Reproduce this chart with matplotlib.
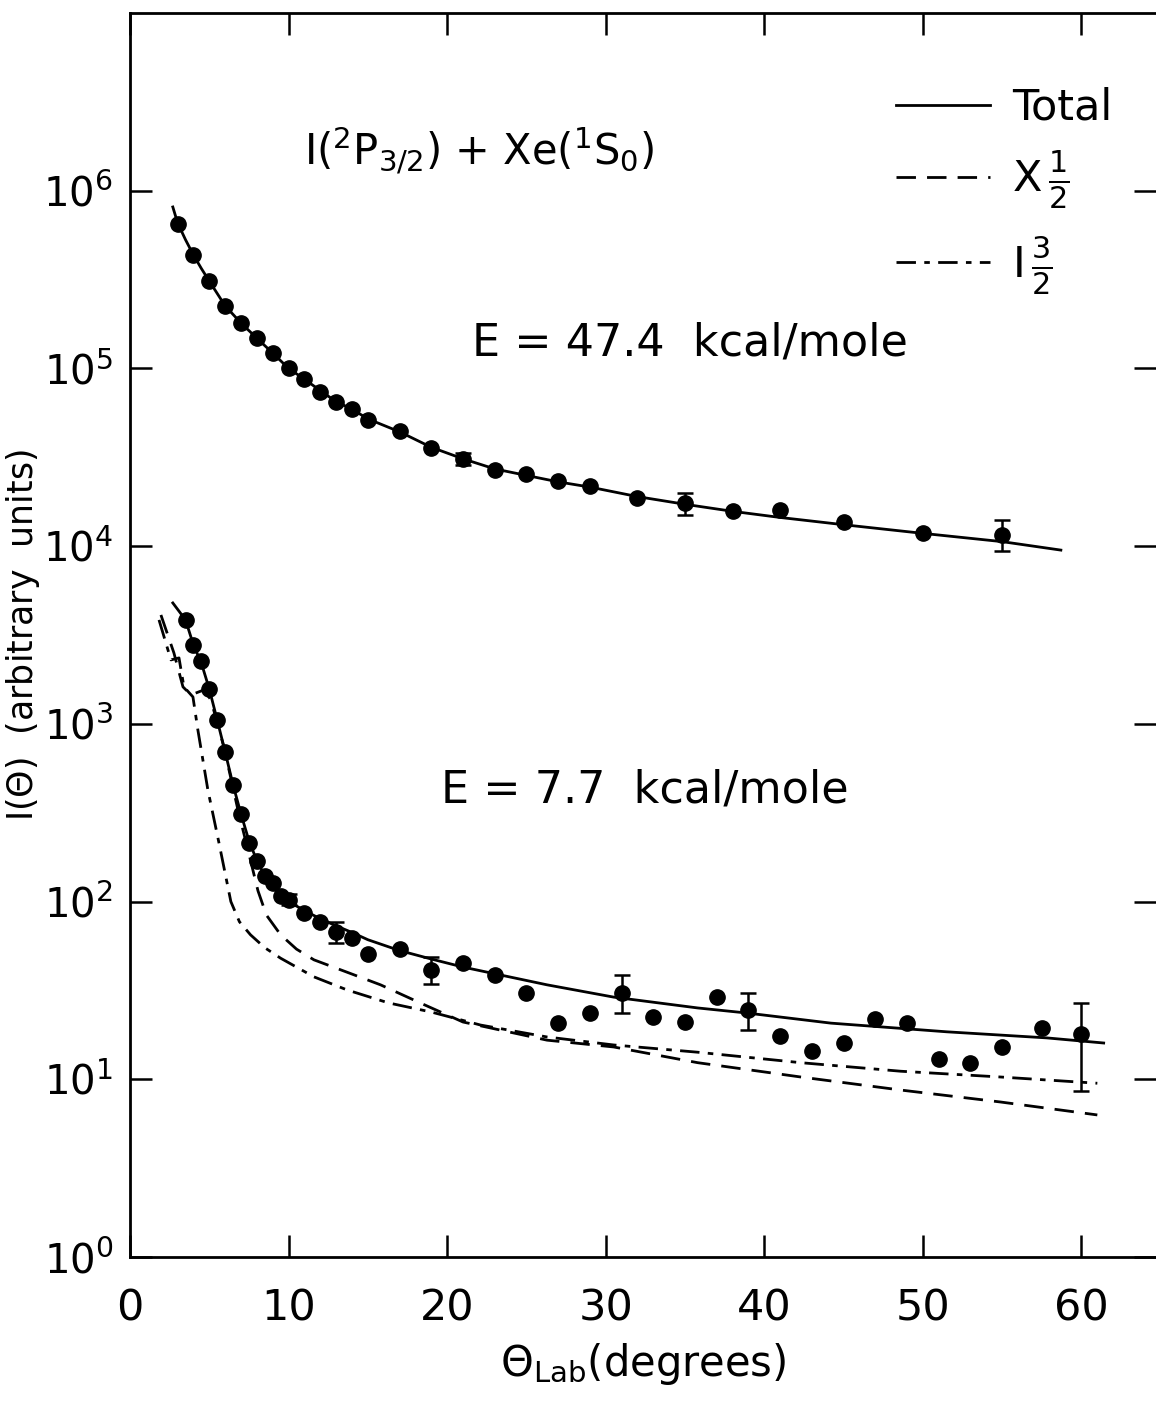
import matplotlib
matplotlib.use("Agg")
import matplotlib.pyplot as plt
import numpy as np

# E = 47.4 kcal/mole : measured points
hi_x = [3, 4, 5, 6, 7, 8, 9, 10, 11, 12, 13, 14, 15, 17, 19, 21, 23, 25, 27, 29,
        32, 35, 38, 41, 45, 50, 55]
hi_y = [6.5e5, 4.35e5, 3.1e5, 2.25e5, 1.8e5, 1.49e5, 1.22e5, 1.0e5, 8.7e4, 7.4e4,
        6.5e4, 5.9e4, 5.1e4, 4.45e4, 3.57e4, 3.1e4, 2.68e4, 2.55e4, 2.33e4, 2.18e4,
        1.87e4, 1.75e4, 1.58e4, 1.6e4, 1.37e4, 1.19e4, 1.16e4]
hi_err_x = [21, 35, 55]
hi_err_y = [3.1e4, 1.75e4, 1.16e4]
hi_err_lo = [2.85e4, 1.5e4, 9.4e3]
hi_err_hi = [3.35e4, 2.0e4, 1.4e4]

# E = 47.4 kcal/mole : total curve
hi_fit_x = [2.7, 3, 3.5, 4, 4.5, 5, 6, 7, 8, 9, 10, 11, 12, 13, 14, 15, 17, 19, 21,
            23, 25, 27, 29, 32, 35, 38, 41, 45, 50, 55, 58.7]
hi_fit_y = [8.1e5, 6.6e5, 5.3e5, 4.35e5, 3.65e5, 3.1e5, 2.25e5, 1.8e5, 1.48e5,
            1.22e5, 1.0e5, 8.7e4, 7.5e4, 6.5e4, 5.9e4, 5.2e4, 4.4e4, 3.6e4, 3.1e4,
            2.72e4, 2.5e4, 2.3e4, 2.15e4, 1.9e4, 1.72e4, 1.57e4, 1.45e4, 1.32e4,
            1.18e4, 1.06e4, 9.5e3]

# E = 7.7 kcal/mole : measured points
lo_x = [3.5, 4, 4.5, 5, 5.5, 6, 6.5, 7, 7.5, 8, 8.5, 9, 9.5, 10, 11, 12, 13, 14, 15,
        17, 19, 21, 23, 25, 27, 29, 31, 33, 35, 37, 39, 41, 43, 45, 47, 49, 51, 53,
        55, 57.5, 60]
lo_y = [3850, 2780, 2260, 1570, 1050, 695, 453, 311, 214, 169, 139, 127, 107, 102,
        86, 77, 67, 62, 51, 54, 41, 45, 38.6, 30.6, 20.7, 23.6, 30.6, 22.4, 21, 29,
        24.5, 17.5, 14.5, 16, 21.8, 20.7, 13, 12.4, 15.2, 19.4, 18]
lo_err_x = [10, 13, 19, 31, 39, 60]
lo_err_y = [102, 67, 41, 30.6, 24.5, 18]
lo_err_lo = [95.6, 58.5, 34.4, 23.6, 18.9, 8.6]
lo_err_hi = [111, 77, 48.7, 38.6, 30.6, 26.9]

# E = 7.7 kcal/mole : curves
tot_x = [2.7, 3.5, 4, 4.5, 5, 5.5, 6, 6.5, 7, 7.5, 8, 8.5, 9, 9.5, 10, 11, 12, 13,
         14, 15, 17, 19, 21, 26.3, 30.5, 35.8, 38.9, 44.2, 51.5, 57.8, 61.4]
tot_y = [4790, 3850, 2780, 2200, 1570, 1050, 695, 453, 311, 220, 170, 140, 122, 108,
         100, 89, 80, 73, 67, 61, 53, 47.5, 42.8, 34, 29, 25.2, 23.6, 20.7, 18.5,
         17.1, 16]
half_x = [1.95, 2.77, 3.34, 3.84, 4.66, 5.1, 5.92, 6.81, 7.44, 8.07, 8.6, 9.5,
          10.5, 11.6, 13.7, 15.8, 18.3, 21.0, 26.3, 30.5, 35.8, 42.3, 48.6, 54.9, 61]
half_y = [4100, 2505, 1615, 1455, 1552, 1365, 741, 327, 195, 115, 84, 65, 54, 47,
          40, 34, 26.9, 21, 16.6, 15.2, 12.4, 10.3, 8.7, 7.45, 6.3]
three_x = [1.83, 2.58, 3.09, 3.4, 3.97, 4.28, 4.91, 5.61, 6.36, 6.9, 7.6, 8.5, 9.5,
           11.6, 13.7, 16.3, 19, 22.1, 26.3, 30.5, 35.8, 42.3, 48.6, 54.9, 61]
three_y = [3845, 2290, 2350, 1615, 1417, 924, 425, 214, 100, 77, 65, 55, 48, 37.7,
           31.8, 26.9, 23.9, 20.2, 17.3, 15.6, 14.2, 12.4, 11.1, 10.3, 9.5]

legend_labels = ["Total", r"X$\,\frac{1}{2}$", r"I$\,\frac{3}{2}$"]

W, H = 1156, 1402
fig = plt.figure(figsize=(W / 100, H / 100), dpi=100)
ax = fig.add_axes([130 / W, 1 - 1257 / H, (W - 130) / W, (1257 - 13) / H])

lw = 2.0
ms = 11
# upper set
ax.plot(hi_fit_x, hi_fit_y, color="black", lw=lw)
ax.plot(hi_x, hi_y, "o", color="black", ms=ms)
ax.errorbar(hi_err_x, hi_err_y,
            yerr=[np.subtract(hi_err_y, hi_err_lo), np.subtract(hi_err_hi, hi_err_y)],
            fmt="none", ecolor="black", elinewidth=1.8, capsize=6, capthick=1.8)

# lower set
l_tot, = ax.plot(tot_x, tot_y, color="black", lw=lw)
l_half, = ax.plot(half_x, half_y, color="black", lw=lw, dashes=(7, 4))
l_three, = ax.plot(three_x, three_y, color="black", lw=lw, dashes=(7, 3, 2, 3))
ax.plot(lo_x, lo_y, "o", color="black", ms=ms)
ax.errorbar(lo_err_x, lo_err_y,
            yerr=[np.subtract(lo_err_y, lo_err_lo), np.subtract(lo_err_hi, lo_err_y)],
            fmt="none", ecolor="black", elinewidth=1.8, capsize=6, capthick=1.8)

ax.set_yscale("log")
ax.set_xlim(0, 64.7)
ax.set_ylim(1, 1e7)

ax.set_xticks([0, 10, 20, 30, 40, 50, 60])
ax.set_yticks([1, 10, 100, 1e3, 1e4, 1e5, 1e6])
ax.set_yticklabels([r"$10^{%d}$" % i for i in range(7)])
ax.minorticks_off()
ax.tick_params(axis="both", direction="in", width=1.8, length=16,
               top=True, right=True, labelsize=31, colors="black")
ax.tick_params(axis="x", pad=22)
ax.tick_params(axis="y", pad=12, labelsize=29)
ax.spines["right"].set_visible(False)
for s in ["left", "bottom", "top"]:
    ax.spines[s].set_linewidth(2)

ax.set_xlabel(r"$\Theta_{\rm Lab}$(degrees)", fontsize=30, labelpad=8)
ax.set_ylabel(r"I($\Theta$)  (arbitrary  units)", fontsize=25)
ax.yaxis.set_label_coords(-0.086, 0.5)

ax.text(0.170, 0.89, r"I($^{2}$P$_{3/2}$) + Xe($^{1}$S$_{0}$)", transform=ax.transAxes,
        fontsize=30, va="center", ha="left")
ax.text(0.333, 0.735, "E = 47.4  kcal/mole", transform=ax.transAxes,
        fontsize=32, va="center", ha="left")
ax.text(0.303, 0.375, "E = 7.7  kcal/mole", transform=ax.transAxes,
        fontsize=32, va="center", ha="left")

ax.legend([l_tot, l_half, l_three], legend_labels, loc="upper right",
          bbox_to_anchor=(0.995, 0.972), frameon=False, fontsize=31,
          handlelength=2.2, handletextpad=0.5, labelspacing=0.5)

fig.savefig("out.png", dpi=100)
